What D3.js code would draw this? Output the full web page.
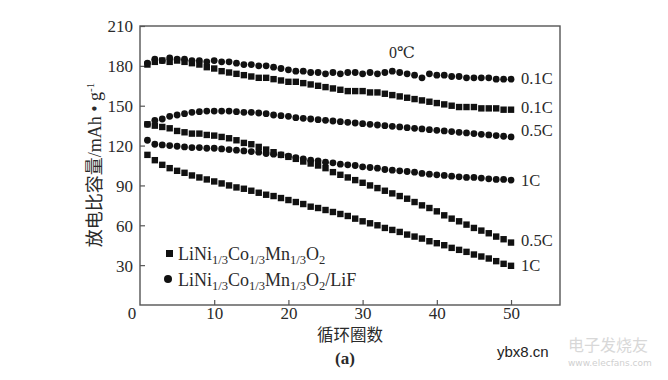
<!DOCTYPE html>
<html><head><meta charset="utf-8">
<script src="https://cdn.jsdelivr.net/npm/d3@7"></script>
<style>
html,body{margin:0;padding:0;background:#fff;}
svg{display:block;}
text{font-family:"Liberation Serif","DejaVu Serif",serif;fill:#2a2a2a;}
</style></head>
<body>
<svg id="c" width="668" height="380"></svg>
<script>
// ---- data ----
const cycles = d3.range(1, 51);
const pristine01C = [181,183,184,183,184,183,182,181,179,178, 176,175,174,173,172,171,171,170,169,168, 168,167,166,165,164,163,162,161,161,161, 160,160,159,158,157,156,155,154,153,152, 151,150,149,149,149,148,148,148,147,147];
const lif01C = [182,185,184,186,185,185,184,184,183,184, 183,183,182,181,181,180,180,179,178,177, 176,176,175,175,174,175,174,175,175,174, 175,174,175,176,175,174,173,171,174,173, 173,172,172,171,171,171,171,170,170,170];
const lif05C = [136,139,140,142,143,144,145,145.5,146,146, 146,146,145.5,145,145,144.5,144,143,142.5,142, 141,140.5,140,139.5,139,138.5,138,137.5,137,136.5, 136,135.5,135,134.5,134,133.5,133,132.5,132,131.5, 131,130.5,130,129.5,129,128.5,128,127.5,127,126.5];
const pristine05C = [136,135,134,133,131,130,129,129,128,127.5, 126.5,125.5,124,122,121,119,117,115,113,111.5, 110,108,106.5,105,103,100,98,96,94,92, 90,88,86,84,82,80,77.5,75,73,70.5, 67.5,65,63,60.5,58,56,54,51.5,49.5,47];
const lif1C = [124,121,120.5,120,119.5,119,118.5,118.5,118,118, 117.5,117,116.5,116,115.5,115,114,113.5,113,112, 111,110,109,108.5,107.5,107,106,105.5,105,104, 103.5,103,102,101.5,101,100.5,100,99,98.5,98, 97.5,97,96.5,96,96,95.5,95,94.5,94.5,94];
const pristine1C = [113,109,105.5,103,101,99.5,97.5,96,94.5,93, 91.5,90,88.5,87.5,86,84.5,83,82,80.5,79, 77.5,76,74,73,71.5,70,68.5,67,65,63, 61.5,60,58,56.5,55,53,51.5,50,48,46.5, 45,43,41.5,40,38,36.5,35,33,31,29.5];
const xTicks = [10, 20, 30, 40, 50];
const yTicks = [30, 60, 90, 120, 150, 180, 210];
const rateLabels = ["0.1C", "0.1C", "0.5C", "1C", "0.5C", "1C"];
const series = [
  {name:"pristine01C", shape:"square", values:pristine01C},
  {name:"lif01C", shape:"circle", values:lif01C},
  {name:"lif05C", shape:"circle", values:lif05C},
  {name:"pristine05C", shape:"square", values:pristine05C},
  {name:"lif1C", shape:"circle", values:lif1C},
  {name:"pristine1C", shape:"square", values:pristine1C}
];

// ---- layout ----
const svg = d3.select("#c");
const L = 140, R = 560, T = 26, B = 305;
const x = d3.scaleLinear().domain([0, 56.6]).range([L, R]);
const y = d3.scaleLinear().domain([0, 210]).range([B, T]);
const ink = "#111";
const axisCol = "#555";

// frame
svg.append("rect").attr("x", L).attr("y", T).attr("width", R - L).attr("height", B - T)
  .attr("fill", "none").attr("stroke", axisCol).attr("stroke-width", 1.4);

// axes with inward ticks
const yAxis = d3.axisLeft(y).tickValues(yTicks).tickSizeInner(-5).tickSizeOuter(0).tickPadding(7);
const gy = svg.append("g").attr("transform", `translate(${L},0)`).call(yAxis);
gy.select(".domain").remove();
gy.selectAll("line").attr("stroke", axisCol).attr("stroke-width", 1.2);
gy.selectAll("text").attr("font-size", 17).attr("dy", "0.35em");

const xAxis = d3.axisBottom(x).tickValues(xTicks).tickSizeInner(-5).tickSizeOuter(0).tickPadding(2);
const gx = svg.append("g").attr("transform", `translate(0,${B})`).call(xAxis);
gx.select(".domain").remove();
gx.selectAll("line").attr("stroke", axisCol).attr("stroke-width", 1.2);
gx.selectAll("text").attr("font-size", 17).attr("dy", "0.71em");

// shared origin label
svg.append("text").attr("x", L - 8).attr("y", B + 14).attr("text-anchor", "middle").attr("font-size", 17).text("0");

// markers
const sq = 6.4, cr = 3.4;
series.forEach(s => {
  const g = svg.append("g");
  const pts = cycles.map((c, i) => ({c, v: s.values[i]}));
  if (s.shape === "square") {
    g.selectAll("rect").data(pts).join("rect")
      .attr("x", d => x(d.c) - sq / 2).attr("y", d => y(d.v) - sq / 2)
      .attr("width", sq).attr("height", sq).attr("fill", ink);
  } else {
    g.selectAll("circle").data(pts).join("circle")
      .attr("cx", d => x(d.c)).attr("cy", d => y(d.v)).attr("r", cr).attr("fill", ink);
  }
});

// rate labels at right
const labelY = [78, 107, 130, 180, 240, 265];
rateLabels.forEach((t, i) => {
  svg.append("text").attr("x", 521).attr("y", labelY[i]).attr("dy", "0.35em")
    .attr("font-size", 16.5).text(t);
});

// temperature
svg.append("text").attr("x", 402).attr("y", 58).attr("text-anchor", "middle").attr("font-size", 16).text("0℃");

// legend
function formula(g, withLiF) {
  const t = g.append("text").attr("font-size", 18);
  t.append("tspan").text("LiNi");
  t.append("tspan").attr("font-size", 12.5).attr("dy", 4).text("1/3");
  t.append("tspan").attr("dy", -4).text("Co");
  t.append("tspan").attr("font-size", 12.5).attr("dy", 4).text("1/3");
  t.append("tspan").attr("dy", -4).text("Mn");
  t.append("tspan").attr("font-size", 12.5).attr("dy", 4).text("1/3");
  t.append("tspan").attr("dy", -4).text("O");
  t.append("tspan").attr("font-size", 12.5).attr("dy", 4).text("2");
  if (withLiF) t.append("tspan").attr("dy", -4).text("/LiF");
  return t;
}
const lg1 = svg.append("g");
lg1.append("rect").attr("x", 166).attr("y", 250).attr("width", 7).attr("height", 7).attr("fill", ink);
formula(lg1, false).attr("x", 178).attr("y", 260);
const lg2 = svg.append("g");
lg2.append("circle").attr("cx", 168).attr("cy", 279).attr("r", 4).attr("fill", ink);
formula(lg2, true).attr("x", 178).attr("y", 286);

// axis titles
const yl = svg.append("text").attr("transform", "translate(101,165) rotate(-90)").attr("text-anchor", "middle")
  .attr("font-size", 18);
yl.append("tspan").style("font-family", "Noto Sans CJK SC, sans-serif").text("放电比容量");
yl.append("tspan").text("/mAh • g");
yl.append("tspan").attr("font-size", 11).attr("dy", -7).text("-1");

svg.append("text").attr("x", 350).attr("y", 341).attr("text-anchor", "middle")
  .attr("font-size", 16.5).style("font-family", "Noto Sans CJK SC, sans-serif").text("循环圈数");
svg.append("text").attr("x", 345).attr("y", 364).attr("text-anchor", "middle")
  .attr("font-size", 17).attr("font-weight", "bold").text("(a)");

// watermark
svg.append("text").attr("x", 497).attr("y", 357).attr("font-size", 15)
  .style("font-family", "Liberation Sans, sans-serif").style("fill", "#222").text("ybx8.cn");
svg.append("text").attr("x", 568).attr("y", 351).attr("font-size", 16)
  .style("font-family", "Noto Sans CJK SC, sans-serif").style("fill", "#d8d8d8").text("电子发烧友");
svg.append("text").attr("x", 568).attr("y", 366).attr("font-size", 9)
  .style("font-family", "DejaVu Sans, sans-serif").style("fill", "#d0d0d0").text("www.elecfans.com");
</script>
</body></html>
